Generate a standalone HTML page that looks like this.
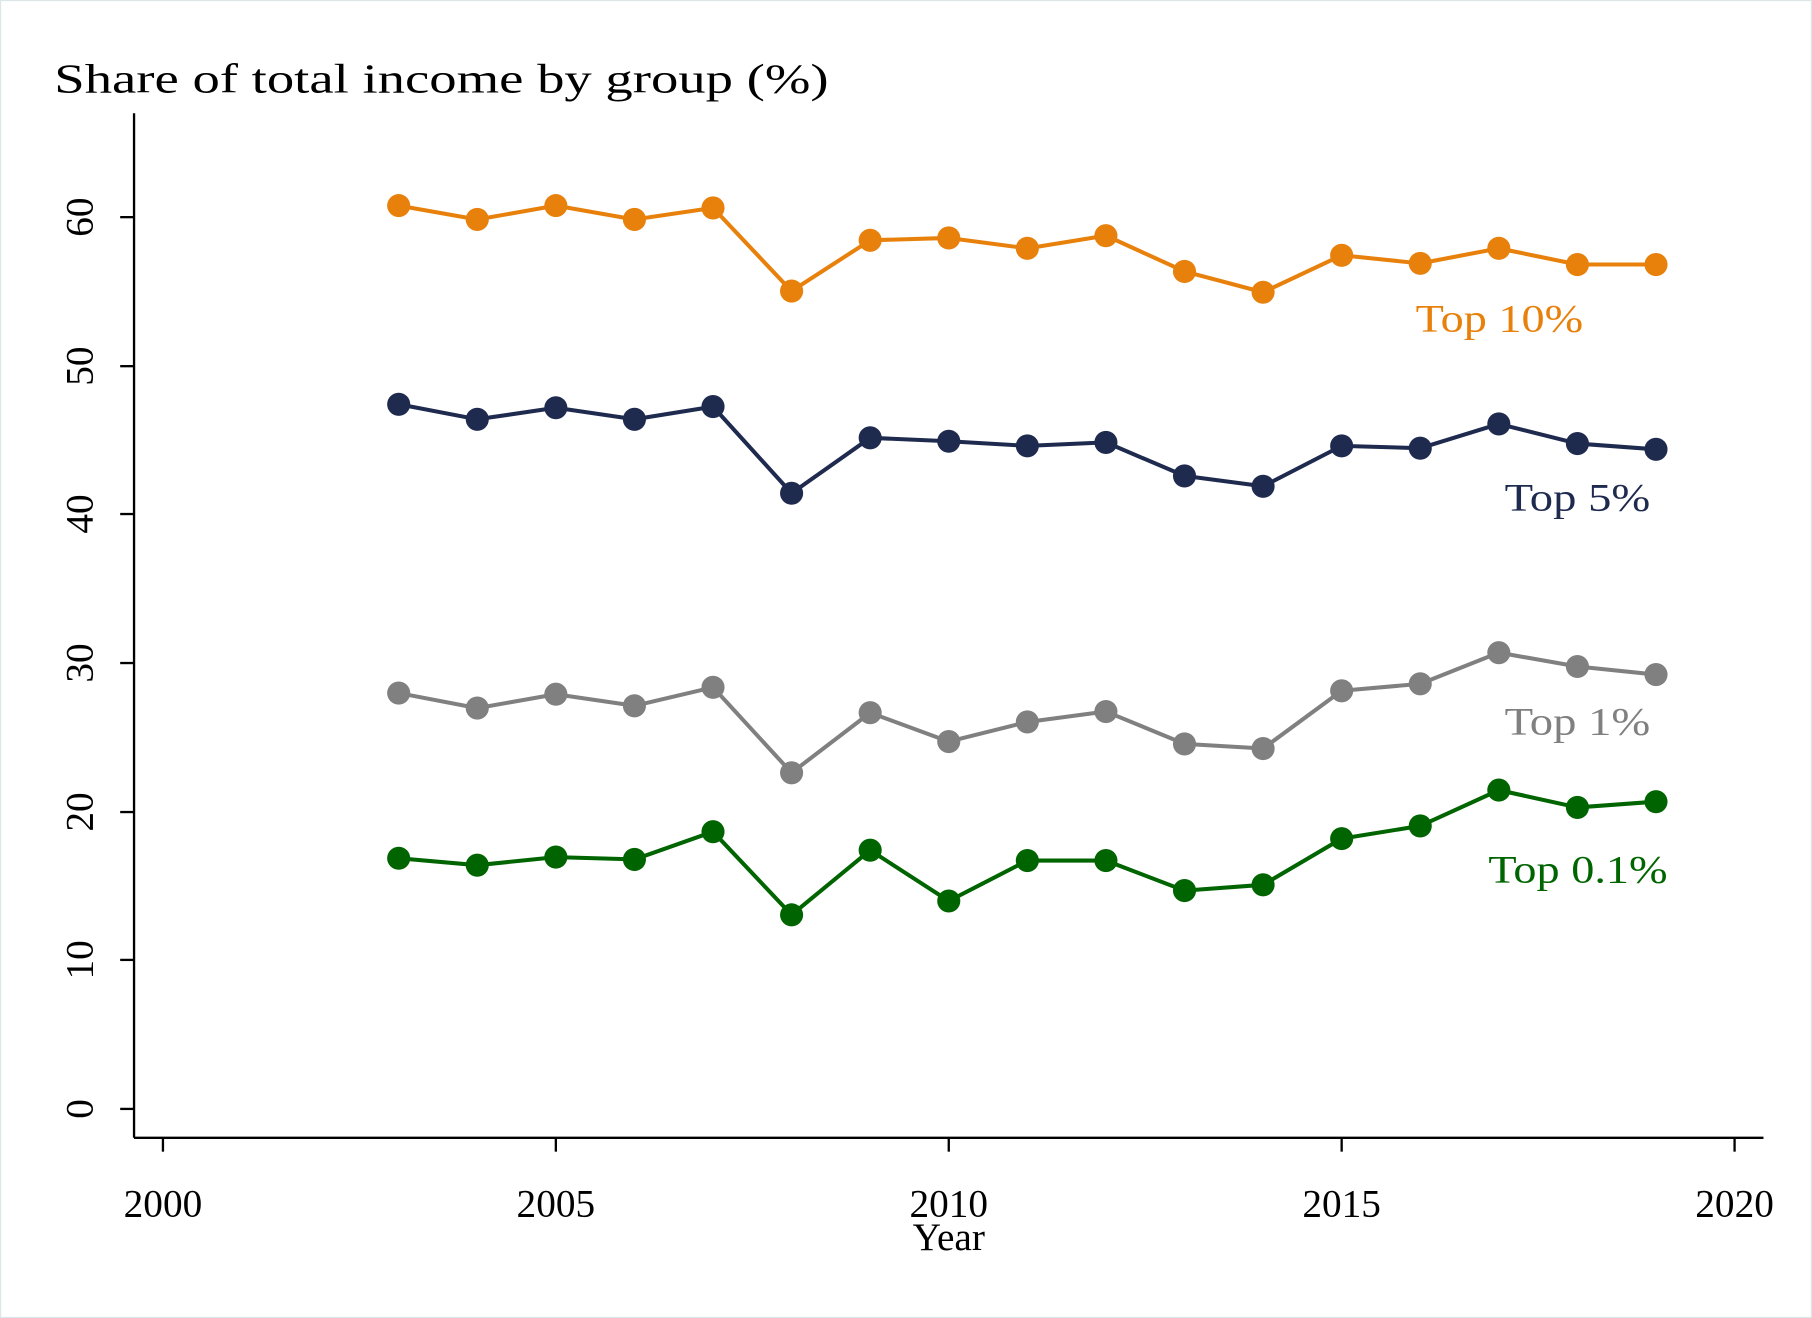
<!DOCTYPE html>
<html><head><meta charset="utf-8"><style>html,body{margin:0;padding:0;background:#fff}svg{display:block}</style></head>
<body>
<svg width="1812" height="1318" viewBox="0 0 1568 1141" preserveAspectRatio="none" xmlns="http://www.w3.org/2000/svg" font-family="'Liberation Serif', serif">
<rect x="0.5" y="0.5" width="1567" height="1140" fill="#fff" stroke="#dde6e6"/>
<text x="47" y="80" font-size="36" fill="#000" textLength="670" lengthAdjust="spacingAndGlyphs">Share of total income by group (%)</text>
<g stroke="#000" stroke-width="2" fill="none">
<line x1="116" y1="98" x2="116" y2="985"/>
<line x1="116" y1="985" x2="1526" y2="985"/>
<line x1="104" y1="960" x2="116" y2="960"/>
<line x1="104" y1="831" x2="116" y2="831"/>
<line x1="104" y1="703" x2="116" y2="703"/>
<line x1="104" y1="574" x2="116" y2="574"/>
<line x1="104" y1="445" x2="116" y2="445"/>
<line x1="104" y1="317" x2="116" y2="317"/>
<line x1="104" y1="188" x2="116" y2="188"/>
<line x1="141" y1="985" x2="141" y2="997"/>
<line x1="481" y1="985" x2="481" y2="997"/>
<line x1="821" y1="985" x2="821" y2="997"/>
<line x1="1161" y1="985" x2="1161" y2="997"/>
<line x1="1501" y1="985" x2="1501" y2="997"/>
</g>
<g font-size="34" fill="#000" text-anchor="middle">
<text transform="translate(80,960) rotate(-90)">0</text>
<text transform="translate(80,831) rotate(-90)">10</text>
<text transform="translate(80,703) rotate(-90)">20</text>
<text transform="translate(80,574) rotate(-90)">30</text>
<text transform="translate(80,445) rotate(-90)">40</text>
<text transform="translate(80,317) rotate(-90)">50</text>
<text transform="translate(80,188) rotate(-90)">60</text>
<text x="141" y="1053">2000</text>
<text x="481" y="1053">2005</text>
<text x="821" y="1053">2010</text>
<text x="1161" y="1053">2015</text>
<text x="1501" y="1053">2020</text>
<text x="821" y="1082">Year</text>
</g>
<g fill="none" stroke-width="3.5" stroke-linejoin="round">
<polyline stroke="#e8800c" points="345,178 413,190 481,178 549,190 617,180 685,252 753,208 821,206 889,215 957,204 1025,235 1093,253 1161,221 1229,228 1297,215 1365,229 1433,229"/>
<polyline stroke="#1f2a4f" points="345,350 413,363 481,353 549,363 617,352 685,427 753,379 821,382 889,386 957,383 1025,412 1093,421 1161,386 1229,388 1297,367 1365,384 1433,389"/>
<polyline stroke="#808080" points="345,600 413,613 481,601 549,611 617,595 685,669 753,617 821,642 889,625 957,616 1025,644 1093,648 1161,598 1229,592 1297,565 1365,577 1433,584"/>
<polyline stroke="#006400" points="345,743 413,749 481,742 549,744 617,720 685,792 753,736 821,780 889,745 957,745 1025,771 1093,766 1161,726 1229,715 1297,684 1365,699 1433,694"/>
</g>
<g fill="#e8800c">
<circle cx="345" cy="178" r="10"/><circle cx="413" cy="190" r="10"/><circle cx="481" cy="178" r="10"/><circle cx="549" cy="190" r="10"/><circle cx="617" cy="180" r="10"/><circle cx="685" cy="252" r="10"/><circle cx="753" cy="208" r="10"/><circle cx="821" cy="206" r="10"/><circle cx="889" cy="215" r="10"/><circle cx="957" cy="204" r="10"/><circle cx="1025" cy="235" r="10"/><circle cx="1093" cy="253" r="10"/><circle cx="1161" cy="221" r="10"/><circle cx="1229" cy="228" r="10"/><circle cx="1297" cy="215" r="10"/><circle cx="1365" cy="229" r="10"/><circle cx="1433" cy="229" r="10"/>
</g>
<g fill="#1f2a4f">
<circle cx="345" cy="350" r="10"/><circle cx="413" cy="363" r="10"/><circle cx="481" cy="353" r="10"/><circle cx="549" cy="363" r="10"/><circle cx="617" cy="352" r="10"/><circle cx="685" cy="427" r="10"/><circle cx="753" cy="379" r="10"/><circle cx="821" cy="382" r="10"/><circle cx="889" cy="386" r="10"/><circle cx="957" cy="383" r="10"/><circle cx="1025" cy="412" r="10"/><circle cx="1093" cy="421" r="10"/><circle cx="1161" cy="386" r="10"/><circle cx="1229" cy="388" r="10"/><circle cx="1297" cy="367" r="10"/><circle cx="1365" cy="384" r="10"/><circle cx="1433" cy="389" r="10"/>
</g>
<g fill="#808080">
<circle cx="345" cy="600" r="10"/><circle cx="413" cy="613" r="10"/><circle cx="481" cy="601" r="10"/><circle cx="549" cy="611" r="10"/><circle cx="617" cy="595" r="10"/><circle cx="685" cy="669" r="10"/><circle cx="753" cy="617" r="10"/><circle cx="821" cy="642" r="10"/><circle cx="889" cy="625" r="10"/><circle cx="957" cy="616" r="10"/><circle cx="1025" cy="644" r="10"/><circle cx="1093" cy="648" r="10"/><circle cx="1161" cy="598" r="10"/><circle cx="1229" cy="592" r="10"/><circle cx="1297" cy="565" r="10"/><circle cx="1365" cy="577" r="10"/><circle cx="1433" cy="584" r="10"/>
</g>
<g fill="#006400">
<circle cx="345" cy="743" r="10"/><circle cx="413" cy="749" r="10"/><circle cx="481" cy="742" r="10"/><circle cx="549" cy="744" r="10"/><circle cx="617" cy="720" r="10"/><circle cx="685" cy="792" r="10"/><circle cx="753" cy="736" r="10"/><circle cx="821" cy="780" r="10"/><circle cx="889" cy="745" r="10"/><circle cx="957" cy="745" r="10"/><circle cx="1025" cy="771" r="10"/><circle cx="1093" cy="766" r="10"/><circle cx="1161" cy="726" r="10"/><circle cx="1229" cy="715" r="10"/><circle cx="1297" cy="684" r="10"/><circle cx="1365" cy="699" r="10"/><circle cx="1433" cy="694" r="10"/>
</g>
<g font-size="34">
<text x="1225" y="287" fill="#e8800c" textLength="145" lengthAdjust="spacingAndGlyphs">Top 10%</text>
<text x="1302" y="442" fill="#1f2a4f" textLength="126" lengthAdjust="spacingAndGlyphs">Top 5%</text>
<text x="1302" y="636" fill="#808080" textLength="126" lengthAdjust="spacingAndGlyphs">Top 1%</text>
<text x="1288" y="764" fill="#006400" textLength="155" lengthAdjust="spacingAndGlyphs">Top 0.1%</text>
</g>
</svg>
</body></html>
